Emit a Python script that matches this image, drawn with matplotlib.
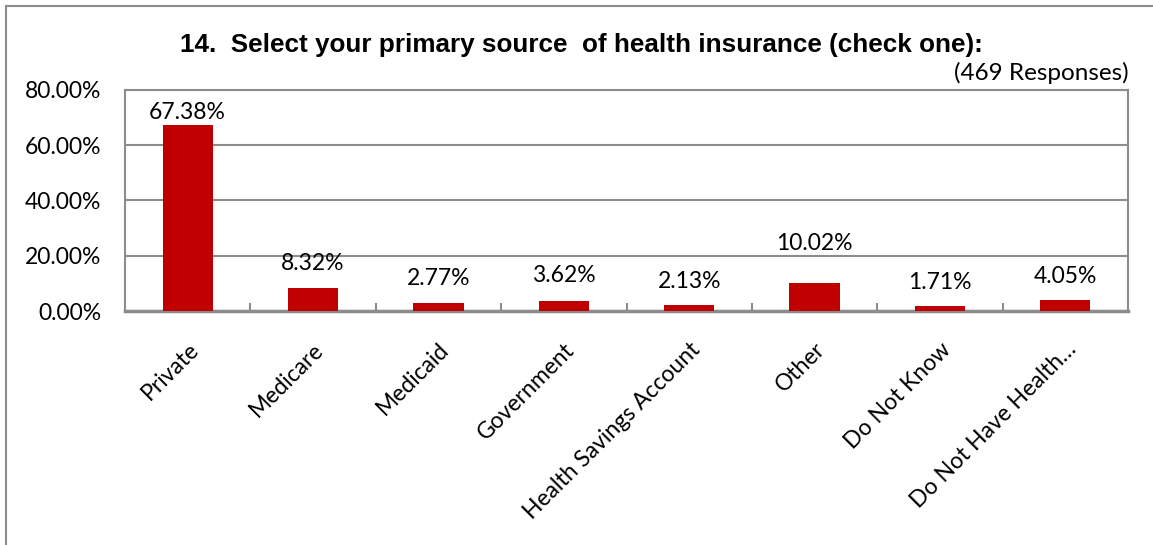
import matplotlib
matplotlib.use("Agg")
import matplotlib.pyplot as plt
from matplotlib.patches import Rectangle
from matplotlib.ticker import FixedLocator, PercentFormatter
import numpy as np

categories = ["Private", "Medicare", "Medicaid", "Government",
              "Health Savings Account", "Other", "Do Not Know",
              "Do Not Have Health\u2026"]
values = [67.38, 8.32, 2.77, 3.62, 2.13, 10.02, 1.71, 4.05]
yticks = [0, 20, 40, 60, 80]

# label offsets above bar tops (points), style only
label_offsets = [9, 18, 18, 18, 17, 29, 17, 17]

W, H = 1153, 545
fig = plt.figure(figsize=(W / 100, H / 100), dpi=100)
fig.patch.set_facecolor("white")

# outer frame
fig.add_artist(Rectangle((6 / W, -0.1), 1.2, 1 - 6 / H + 0.1,
                         transform=fig.transFigure, fill=False,
                         edgecolor="#8c8c8c", linewidth=1.5))

ax = fig.add_axes([125 / W, 1 - 311 / H, (1128 - 125) / W, (311 - 90) / H])
x = np.arange(len(categories))
ax.bar(x, values, width=0.4, color="#C00000", zorder=3)
ax.set_xlim(-0.5, len(categories) - 0.5)
ax.set_ylim(0, 80)
ax.set_yticks(yticks)
ax.yaxis.set_major_formatter(PercentFormatter(decimals=2))
ax.yaxis.grid(True, color="#8c8c8c", linewidth=1.5, zorder=0)
ax.tick_params(axis="y", length=0, labelsize=16.5, pad=17)

ax.set_xticks(x)
ax.set_xticklabels(categories, rotation=45, ha="right",
                   rotation_mode="anchor", fontsize=16.5)
ax.tick_params(axis="x", which="major", length=0, pad=20)
ax.xaxis.set_minor_locator(FixedLocator(np.arange(0.5, len(categories) - 0.5, 1)))
ax.tick_params(axis="x", which="minor", direction="in", length=6,
               width=1.5, color="#8c8c8c")

for s in ax.spines.values():
    s.set_color("#8c8c8c")
    s.set_linewidth(1.5)
ax.spines["bottom"].set_linewidth(2.5)

for lab in ax.get_xticklabels() + ax.get_yticklabels():
    lab.set_fontfamily("Lato")

for xi, v, off in zip(x, values, label_offsets):
    ax.annotate(f"{v:.2f}%", (xi, v), xytext=(0, off),
                textcoords="offset points", ha="center", va="center",
                fontsize=16.5, family="Lato")

fig.text(581 / W, 1 - 45 / H,
         "14.  Select your primary source  of health insurance (check one):",
         ha="center", va="center", fontsize=18.8, fontweight="bold",
         family="Liberation Sans")
fig.text(1129 / W, 1 - 73 / H, "(469 Responses)", ha="right",
         va="center", fontsize=17.5, family="Lato")

fig.savefig("out.png", dpi=100)
